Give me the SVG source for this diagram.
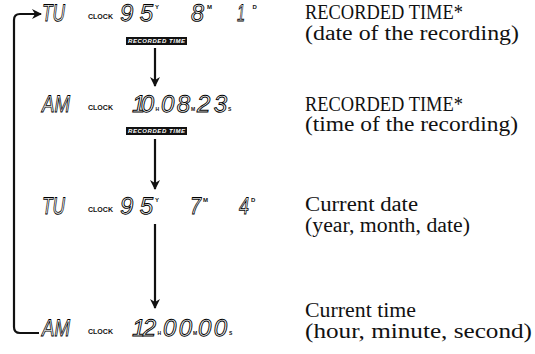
<svg xmlns="http://www.w3.org/2000/svg" width="535" height="354" viewBox="0 0 535 354">
<defs>
<marker id="ah" viewBox="0 0 10 10" refX="9" refY="5" markerWidth="10" markerHeight="10" markerUnits="userSpaceOnUse" orient="auto">
<path d="M0,0 L10,5 L0,10 L3,5 z" fill="#111"/>
</marker>
</defs>
<style>
.lcd{font-family:"Liberation Sans",Arial,sans-serif;font-style:italic;font-size:24px;fill:#fff;stroke:#000;stroke-width:0.9;text-rendering:geometricPrecision}
.sm{font-family:"Liberation Sans",Arial,sans-serif;font-size:6px;fill:#111;font-weight:bold}
.xs{font-family:"Liberation Sans",Arial,sans-serif;font-size:5px;fill:#111;font-weight:bold}
.clk{font-family:"Liberation Sans",Arial,sans-serif;font-size:6.5px;fill:#111;font-weight:bold}
.badge rect{fill:#111}
.badge text{font-family:"Liberation Sans",Arial,sans-serif;font-size:6px;font-weight:bold;font-style:italic;fill:#fff}
.lbl{font-family:"Liberation Serif","Times New Roman",serif;font-size:20px;fill:#111}
.conn{fill:none;stroke:#111;stroke-width:2.2}
</style>
<rect width="535" height="354" fill="#fff"/>

<g id="connectors">
<path class="conn" d="M39,333 H20 Q14,333 14,327 V20 Q14,14 20,14 H41" marker-end="url(#ah)"/>
<path class="conn" d="M155,48 V86" marker-end="url(#ah)"/>
<path class="conn" d="M155,139 V189" marker-end="url(#ah)"/>
<path class="conn" d="M155,224 V308" marker-end="url(#ah)"/>
</g>

<g id="node-recorded-date">
<text class="lcd" x="42" y="21" textLength="23" lengthAdjust="spacingAndGlyphs">TU</text>
<text class="clk" x="88" y="19" textLength="25" lengthAdjust="spacingAndGlyphs">CLOCK</text>
<text class="lcd" x="120" y="21" textLength="33" lengthAdjust="spacing">95</text>
<text class="sm" x="155" y="9">Y</text>
<text class="lcd" x="191" y="21" textLength="13" lengthAdjust="spacingAndGlyphs">8</text>
<text class="sm" x="207" y="9">M</text>
<text class="lcd" x="237" y="21" textLength="8" lengthAdjust="spacingAndGlyphs">1</text>
<text class="sm" x="252.5" y="9">D</text>
<g class="badge"><rect x="126" y="37" width="61" height="8"/><text x="156.5" y="43.3" text-anchor="middle" textLength="57">RECORDED TIME</text></g>
<text class="lbl" x="305" y="19" textLength="158" lengthAdjust="spacingAndGlyphs">RECORDED TIME*</text>
<text class="lbl" x="305" y="40" textLength="214" lengthAdjust="spacingAndGlyphs">(date of the recording)</text>
</g>

<g id="node-recorded-time">
<text class="lcd" x="42" y="112" textLength="28" lengthAdjust="spacingAndGlyphs">AM</text>
<text class="clk" x="88" y="110" textLength="25" lengthAdjust="spacingAndGlyphs">CLOCK</text>
<text class="lcd" x="132" y="112" textLength="22" lengthAdjust="spacing">10</text>
<text class="xs" x="155.5" y="111">H</text>
<text class="lcd" x="161" y="112" textLength="29" lengthAdjust="spacing">08</text>
<text class="xs" x="191" y="111">M</text>
<text class="lcd" x="197" y="112" textLength="30" lengthAdjust="spacing">23</text>
<text class="xs" x="228" y="111">S</text>
<g class="badge"><rect x="126" y="127" width="61" height="8"/><text x="156.5" y="133.3" text-anchor="middle" textLength="57">RECORDED TIME</text></g>
<text class="lbl" x="305" y="111" textLength="158" lengthAdjust="spacingAndGlyphs">RECORDED TIME*</text>
<text class="lbl" x="305" y="131" textLength="213" lengthAdjust="spacingAndGlyphs">(time of the recording)</text>
</g>

<g id="node-current-date">
<text class="lcd" x="42" y="214" textLength="23" lengthAdjust="spacingAndGlyphs">TU</text>
<text class="clk" x="88" y="212" textLength="25" lengthAdjust="spacingAndGlyphs">CLOCK</text>
<text class="lcd" x="120" y="214" textLength="33" lengthAdjust="spacing">95</text>
<text class="sm" x="155" y="202">Y</text>
<text class="lcd" x="190" y="214" textLength="11" lengthAdjust="spacingAndGlyphs">7</text>
<text class="sm" x="203" y="202">M</text>
<text class="lcd" x="239" y="214" textLength="10" lengthAdjust="spacingAndGlyphs">4</text>
<text class="sm" x="251" y="202">D</text>
<text class="lbl" x="305" y="211" textLength="113" lengthAdjust="spacingAndGlyphs">Current date</text>
<text class="lbl" x="305" y="232" textLength="165" lengthAdjust="spacingAndGlyphs">(year, month, date)</text>
</g>

<g id="node-current-time">
<text class="lcd" x="42" y="336" textLength="28" lengthAdjust="spacingAndGlyphs">AM</text>
<text class="clk" x="88" y="334" textLength="25" lengthAdjust="spacingAndGlyphs">CLOCK</text>
<text class="lcd" x="132" y="336" textLength="24" lengthAdjust="spacing">12</text>
<text class="xs" x="157.5" y="335">H</text>
<text class="lcd" x="163" y="336" textLength="29" lengthAdjust="spacing">00</text>
<text class="xs" x="193" y="335">M</text>
<text class="lcd" x="198" y="336" textLength="29" lengthAdjust="spacing">00</text>
<text class="xs" x="229" y="335">S</text>
<text class="lbl" x="305" y="317" textLength="111" lengthAdjust="spacingAndGlyphs">Current time</text>
<text class="lbl" x="305" y="338" textLength="227" lengthAdjust="spacingAndGlyphs">(hour, minute, second)</text>
</g>
</svg>
